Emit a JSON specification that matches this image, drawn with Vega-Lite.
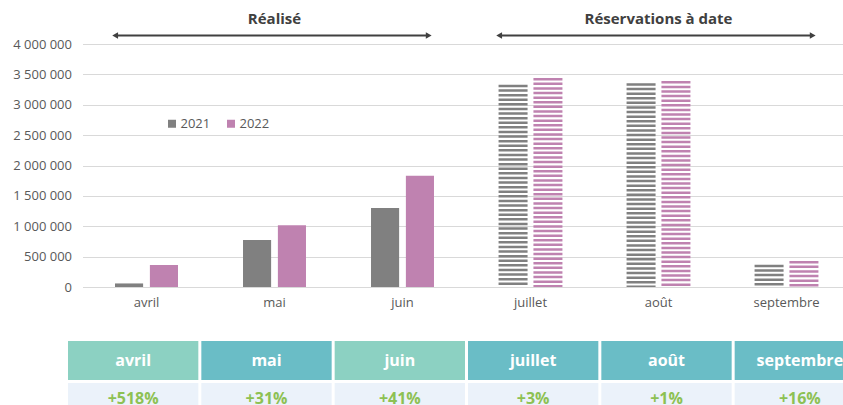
{
  "$schema": "https://vega.github.io/schema/vega-lite/v6.json",
  "padding": {"left": 12, "top": 10, "right": 0, "bottom": 0},
  "bounds": "flush",
  "center": true,
  "spacing": 0,
  "config": {
    "view": {"stroke": null},
    "font": "Open Sans",
    "locale": {"number": {"decimal": ",", "thousands": " ", "grouping": [3], "currency": ["", " €"]}}
  },
  "datasets": {
    "ventes": [
      {"mois": "avril", "annee": "2021", "valeur": 58600, "periode": "Réalisé"},
      {"mois": "avril", "annee": "2022", "valeur": 362000, "periode": "Réalisé"},
      {"mois": "mai", "annee": "2021", "valeur": 775000, "periode": "Réalisé"},
      {"mois": "mai", "annee": "2022", "valeur": 1015000, "periode": "Réalisé"},
      {"mois": "juin", "annee": "2021", "valeur": 1300000, "periode": "Réalisé"},
      {"mois": "juin", "annee": "2022", "valeur": 1830000, "periode": "Réalisé"},
      {"mois": "juillet", "annee": "2021", "valeur": 3330000, "periode": "Réservations à date"},
      {"mois": "juillet", "annee": "2022", "valeur": 3440000, "periode": "Réservations à date"},
      {"mois": "août", "annee": "2021", "valeur": 3355000, "periode": "Réservations à date"},
      {"mois": "août", "annee": "2022", "valeur": 3390000, "periode": "Réservations à date"},
      {"mois": "septembre", "annee": "2021", "valeur": 368000, "periode": "Réservations à date"},
      {"mois": "septembre", "annee": "2022", "valeur": 428000, "periode": "Réservations à date"}
    ],
    "titres": [
      {"mois": "mai", "titre": "Réalisé"},
      {"mois": "août", "titre": "Réservations à date"}
    ],
    "fleches": [
      {"groupe": "Réalisé", "mois": "avril", "bout": "début"},
      {"groupe": "Réalisé", "mois": "juin", "bout": "fin"},
      {"groupe": "Réservations à date", "mois": "juillet", "bout": "début"},
      {"groupe": "Réservations à date", "mois": "septembre", "bout": "fin"}
    ],
    "tableau": [
      {"mois": "avril", "variation": "+518%"},
      {"mois": "mai", "variation": "+31%"},
      {"mois": "juin", "variation": "+41%"},
      {"mois": "juillet", "variation": "+3%"},
      {"mois": "août", "variation": "+1%"},
      {"mois": "septembre", "variation": "+16%"}
    ]
  },
  "resolve": {"scale": {"x": "independent", "y": "independent", "xOffset": "independent", "color": "independent"}},
  "vconcat": [
    {
      "width": 768,
      "height": 34,
      "layer": [
        {
          "data": {"name": "titres"},
          "mark": {"type": "text", "fontWeight": "bold", "fontSize": 15, "color": "#404040"},
          "encoding": {
            "x": {"field": "mois", "type": "nominal", "scale": {"type": "band", "domain": ["avril", "mai", "juin", "juillet", "août", "septembre"], "paddingInner": 0, "paddingOuter": 0}, "axis": null},
            "y": {"datum": "titre", "type": "nominal", "scale": {"type": "band", "domain": ["titre", "flèche"], "paddingInner": 0, "paddingOuter": 0}, "axis": null},
            "text": {"field": "titre"}
          }
        },
        {
          "data": {"name": "fleches"},
          "mark": {"type": "line", "color": "#404040", "strokeWidth": 1.8},
          "encoding": {
            "x": {"field": "mois", "type": "nominal", "axis": null},
            "xOffset": {"field": "bout", "type": "nominal", "scale": {"type": "band", "domain": ["début", "fin"], "paddingInner": 0, "paddingOuter": 0.111, "align": 0.3}},
            "y": {"datum": "flèche", "type": "nominal"},
            "detail": {"field": "groupe"}
          }
        },
        {
          "data": {"name": "fleches"},
          "mark": {"type": "point", "filled": true, "color": "#404040", "size": 45, "opacity": 1},
          "encoding": {
            "x": {"field": "mois", "type": "nominal", "axis": null},
            "xOffset": {"field": "bout", "type": "nominal"},
            "y": {"datum": "flèche", "type": "nominal"},
            "shape": {"field": "bout", "type": "nominal", "scale": {"domain": ["début", "fin"], "range": ["triangle-left", "triangle-right"]}, "legend": null}
          }
        }
      ]
    },
    {
      "width": 768,
      "height": 243,
      "data": {"name": "ventes"},
      "encoding": {
        "x": {
          "field": "mois", "type": "nominal",
          "scale": {"type": "band", "domain": ["avril", "mai", "juin", "juillet", "août", "septembre"], "paddingInner": 0.508, "paddingOuter": 0.254},
          "axis": {"title": null, "labelAngle": 0, "domain": false, "ticks": false, "labelPadding": 9, "labelFontSize": 13, "labelColor": "#595959", "labelFont": "Open Sans"}
        },
        "xOffset": {"field": "annee", "type": "nominal", "scale": {"type": "band", "domain": ["2021", "2022"], "paddingInner": 0.194, "paddingOuter": 0}},
        "y": {
          "field": "valeur", "type": "quantitative",
          "scale": {"domain": [0, 4000000]},
          "axis": {"title": null, "values": [0, 500000, 1000000, 1500000, 2000000, 2500000, 3000000, 3500000, 4000000], "format": ",d", "domain": false, "ticks": false, "labelPadding": 11, "labelFontSize": 13, "labelColor": "#595959", "gridColor": "#D9D9D9", "gridWidth": 1}
        },
        "color": {
          "field": "annee", "type": "nominal",
          "scale": {"domain": ["2021", "2022"], "range": ["#808080", "#BF82B0"]},
          "legend": {"title": null, "orient": "none", "legendX": 83, "legendY": 73, "direction": "horizontal", "symbolType": "square", "symbolSize": 64, "symbolStrokeWidth": 0, "labelFontSize": 13, "labelColor": "#595959", "labelOffset": 2, "columnPadding": 14}
        }
      },
      "layer": [
        {
          "transform": [{"filter": "datum.periode == 'Réalisé'"}],
          "mark": {"type": "bar"}
        },
        {
          "transform": [{"filter": "datum.periode != 'Réalisé'"}],
          "mark": {"type": "rule", "strokeWidth": 29, "strokeDash": [2.5, 2.1], "strokeCap": "butt"},
          "encoding": {"y2": {"datum": 0}}
        }
      ]
    },
    {
      "width": 797,
      "height": 135,
      "data": {"name": "tableau"},
      "encoding": {
        "x": {"field": "mois", "type": "nominal", "scale": {"type": "band", "domain": ["avril", "mai", "juin", "juillet", "août", "septembre"], "paddingInner": 0.0225, "paddingOuter": 0}, "axis": null}
      },
      "layer": [
        {
          "mark": {"type": "rect"},
          "encoding": {
            "y": {"datum": "mois", "type": "nominal", "scale": {"type": "band", "domain": ["mois", "variation"], "paddingInner": 0.0714, "paddingOuter": 0.643, "align": 1}, "axis": null},
            "color": {"condition": {"test": "datum.mois == 'avril' || datum.mois == 'juin'", "value": "#8CD1C2"}, "value": "#6ABDC6"}
          }
        },
        {
          "mark": {"type": "rect", "color": "#EBF2FA"},
          "encoding": {"y": {"datum": "variation", "type": "nominal"}}
        },
        {
          "mark": {"type": "text", "color": "white", "fontWeight": "bold", "fontSize": 16},
          "encoding": {"y": {"datum": "mois", "type": "nominal"}, "text": {"field": "mois"}}
        },
        {
          "mark": {"type": "text", "color": "#8DC153", "fontWeight": "bold", "fontSize": 16, "dy": -4},
          "encoding": {"y": {"datum": "variation", "type": "nominal"}, "text": {"field": "variation"}}
        }
      ]
    }
  ]
}
